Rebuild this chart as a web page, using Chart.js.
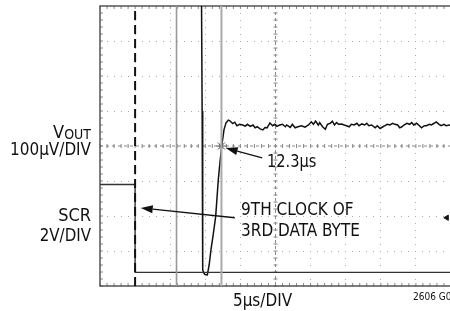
<!DOCTYPE html>
<html>
<head>
<meta charset="utf-8">
<script src="https://cdn.jsdelivr.net/npm/chart.js@4.4.0/dist/chart.umd.min.js"></script>
<style>
  html, body { margin: 0; padding: 0; background: #fff; overflow: hidden; }
  #wrap { width: 460px; height: 311px; }
</style>
</head>
<body>
<div id="wrap"><canvas id="scope" width="460" height="311"></canvas></div>
<script>
// time in us (5us/div), amplitude in divisions
const voutTime = [14.45, 14.55, 14.63, 14.75, 14.95, 15.29, 15.55, 15.81, 16.15, 16.48, 16.85, 17.10, 17.34, 17.66, 17.95, 18.28,
  18.5, 18.9, 19.2, 19.5, 19.9, 20.3, 20.7, 21.0, 21.4, 21.8, 22.1, 22.4, 22.8, 23.2, 23.5, 23.8, 24.2, 24.6, 24.9, 25.2,
  25.6, 26.0, 26.4, 26.6, 27.1, 27.4, 27.8, 28.2, 28.7, 29.2, 29.7, 30.1, 30.4, 30.7, 31.1, 31.3, 31.7, 32.1, 32.4, 32.8,
  33.1, 33.4, 33.7, 34.0, 34.4, 34.8, 35.1, 35.5, 35.8, 36.2, 36.6, 36.9, 37.3, 37.7, 38.0, 38.3, 38.7, 39.2, 39.5, 39.9,
  40.3, 40.6, 40.9, 41.3, 41.7, 42.0, 42.4, 42.7, 43.0, 43.3, 43.7, 44.1, 44.4, 44.7, 45.1, 45.5, 45.8, 46.2, 46.5, 46.9,
  47.2, 47.6, 47.9, 48.3, 48.6, 49.0, 49.3, 49.8, 50.2];
const voutDiv = [4.6, 1.0, -3.53, -3.62, -3.67, -3.68, -3.4, -2.96, -2.5, -2.01, -0.97, -0.45, 0, 0.46, 0.66, 0.74,
  0.72, 0.64, 0.68, 0.58, 0.62, 0.60, 0.57, 0.62, 0.56, 0.60, 0.52, 0.55, 0.49, 0.46, 0.53, 0.52, 0.66, 0.58, 0.62, 0.56,
  0.60, 0.62, 0.55, 0.60, 0.53, 0.62, 0.52, 0.55, 0.58, 0.54, 0.60, 0.69, 0.62, 0.71, 0.60, 0.67, 0.55, 0.48, 0.62, 0.65,
  0.71, 0.60, 0.67, 0.62, 0.63, 0.60, 0.58, 0.55, 0.62, 0.60, 0.65, 0.58, 0.63, 0.60, 0.65, 0.58, 0.60, 0.52, 0.58, 0.50,
  0.55, 0.58, 0.62, 0.60, 0.65, 0.62, 0.60, 0.52, 0.55, 0.60, 0.65, 0.62, 0.67, 0.60, 0.65, 0.58, 0.52, 0.58, 0.58, 0.62,
  0.60, 0.65, 0.69, 0.62, 0.58, 0.62, 0.58, 0.60, 0.60];

const scrTime = [0, 5, 5, 50.2];
const scrDiv = [-1.1, -1.1, -3.61, -3.61];

const clockTime = 5;            // 9th clock edge (dashed)
const cursorTimes = [10.9, 17.3]; // scope cursors
const crossing = { t: 17.3, v: 0 };
const trigger = { t: 49.4, v: -2.05 };

const xTicks = [0, 5, 10, 15, 20, 25, 30, 35, 40, 45, 50];
const yTicks = [-4, -3, -2, -1, 0, 1, 2, 3, 4];

const FONT = '"Liberation Sans Narrow", "DejaVu Sans Condensed", "Liberation Sans", sans-serif';

function pts(xs, ys) {
  return xs.map((x, i) => ({ x: x, y: ys[i] }));
}
function vline(t) {
  return [{ x: t, y: -4 }, { x: t, y: 4 }];
}

// text squeezed a little horizontally
function narrowText(ctx, txt, x, y, sx) {
  ctx.save();
  ctx.translate(x, y);
  ctx.scale(sx, 1);
  ctx.fillText(txt, 0, 0);
  ctx.restore();
}

// frame, centre axes with minor ticks, annotations
const scopePlugin = {
  id: "scope",
  beforeDatasetsDraw(chart) {
    const { ctx, chartArea: a, scales } = chart;
    const xs = scales.x, ys = scales.y;
    const cx = xs.getPixelForValue(25), cy = ys.getPixelForValue(0);
    ctx.save();
    ctx.strokeStyle = "#888";
    ctx.lineWidth = 1;
    ctx.setLineDash([3, 3]);
    ctx.beginPath();
    ctx.moveTo(a.left, cy); ctx.lineTo(a.right, cy);
    ctx.moveTo(cx, a.top); ctx.lineTo(cx, a.bottom);
    ctx.stroke();
    ctx.setLineDash([]);
    // minor ticks every 1/5 div
    ctx.beginPath();
    for (let t = 0; t <= 50; t += 1) {
      const px = xs.getPixelForValue(t);
      ctx.moveTo(px, cy - 2); ctx.lineTo(px, cy + 2);
      ctx.moveTo(px, a.bottom); ctx.lineTo(px, a.bottom - 3);
      ctx.moveTo(px, a.top); ctx.lineTo(px, a.top + 3);
    }
    for (let v = -4; v <= 4; v += 0.2) {
      const py = ys.getPixelForValue(v);
      ctx.moveTo(cx - 2, py); ctx.lineTo(cx + 2, py);
      ctx.moveTo(a.left, py); ctx.lineTo(a.left + 3, py);
    }
    ctx.stroke();
    // frame
    ctx.strokeStyle = "#555";
    ctx.lineWidth = 1.5;
    ctx.beginPath();
    ctx.moveTo(a.right + 5, a.top); ctx.lineTo(a.left, a.top);
    ctx.lineTo(a.left, a.bottom); ctx.lineTo(a.right + 5, a.bottom);
    ctx.stroke();
    ctx.restore();
  },
  afterDraw(chart) {
    const { ctx, scales } = chart;
    const xs = scales.x, ys = scales.y;
    ctx.save();
    ctx.fillStyle = "#111";
    ctx.strokeStyle = "#111";
    ctx.textBaseline = "alphabetic";

    // left labels (right aligned at x=91)
    ctx.textAlign = "right";
    ctx.font = "14px " + FONT;
    ctx.fillText("OUT", 91, 139);
    const w = ctx.measureText("OUT").width;
    ctx.font = "18px " + FONT;
    ctx.fillText("V", 91 - w, 138);
    narrowText(ctx, "100\u03BCV/DIV", 91, 155, 0.94);
    ctx.fillText("SCR", 91, 221);
    narrowText(ctx, "2V/DIV", 91, 241, 0.93);

    // in-plot text
    ctx.textAlign = "left";
    narrowText(ctx, "12.3\u03BCs", xs.getPixelForValue(23.8), ys.getPixelForValue(-0.59), 0.9);
    ctx.font = "17px " + FONT;
    ctx.fillText("9TH CLOCK OF", xs.getPixelForValue(20.1), ys.getPixelForValue(-1.96));
    ctx.fillText("3RD DATA BYTE", xs.getPixelForValue(20.1), ys.getPixelForValue(-2.56));
    ctx.font = "18px " + FONT;
    narrowText(ctx, "5\u03BCs/DIV", 233, 306, 0.94);
    ctx.font = "10px " + FONT;
    ctx.fillText("2606 G08", 413, 300);

    // arrows
    arrow(ctx, xs.getPixelForValue(23.1), ys.getPixelForValue(-0.34), xs.getPixelForValue(17.9), ys.getPixelForValue(-0.06));
    arrow(ctx, xs.getPixelForValue(19.2), ys.getPixelForValue(-2.05), xs.getPixelForValue(5.8), ys.getPixelForValue(-1.77));
    ctx.restore();
  }
};

function arrow(ctx, x1, y1, x2, y2) {
  const ang = Math.atan2(y2 - y1, x2 - x1);
  const len = 12, half = 4;
  const bx = x2 - len * Math.cos(ang), by = y2 - len * Math.sin(ang);
  ctx.lineWidth = 1.3;
  ctx.beginPath();
  ctx.moveTo(x1, y1); ctx.lineTo(bx, by);
  ctx.stroke();
  ctx.beginPath();
  ctx.moveTo(x2, y2);
  ctx.lineTo(bx + half * Math.sin(ang), by - half * Math.cos(ang));
  ctx.lineTo(bx - half * Math.sin(ang), by + half * Math.cos(ang));
  ctx.closePath();
  ctx.fill();
}

const chart = document.getElementById("scope").getContext("2d");

const scopeChart = new Chart(chart, {
  type: "scatter",
  data: {
    datasets: [
      {
        label: "cursor",
        data: vline(cursorTimes[0]),
        showLine: true,
        borderColor: "#999",
        borderWidth: 1.6,
        pointRadius: 0,
      },
      {
        label: "cursor2",
        data: vline(cursorTimes[1]),
        showLine: true,
        borderColor: "#aaa",
        borderWidth: 2,
        pointRadius: 0,
      },
      {
        label: "clock",
        data: vline(clockTime),
        showLine: true,
        borderColor: "#111",
        borderWidth: 2,
        borderDash: [9, 5],
        pointRadius: 0,
      },
      {
        label: "SCR",
        data: pts(scrTime, scrDiv),
        showLine: true,
        borderColor: "#333",
        borderWidth: 1.4,
        pointRadius: 0,
      },
      {
        label: "VOUT",
        data: pts(voutTime, voutDiv),
        showLine: true,
        borderColor: "#111",
        borderWidth: 1.5,
        pointRadius: 0,
        tension: 0,
      },
      {
        label: "cross",
        data: [{ x: crossing.t, y: crossing.v }],
        pointStyle: "star",
        pointRadius: 5,
        borderColor: "#555",
        borderWidth: 1,
      },
      {
        label: "trig",
        data: [{ x: trigger.t, y: trigger.v }],
        pointStyle: "triangle",
        rotation: 270,
        pointRadius: 3,
        backgroundColor: "#111",
        borderColor: "#111",
      },
    ],
  },
  options: {
    responsive: false,
    animation: false,
    events: [],
    layout: { padding: { left: 100, top: 5, right: 9, bottom: 25 } },
    scales: {
      x: {
        type: "linear",
        min: 0,
        max: 50,
        afterBuildTicks: (s) => { s.ticks = xTicks.map(v => ({ value: v })); },
        ticks: { display: false },
        grid: { color: "#aaa", lineWidth: 1, drawTicks: false, tickLength: 0 },
        border: { display: false, dash: [1, 6] },
      },
      y: {
        type: "linear",
        min: -4,
        max: 4,
        afterBuildTicks: (s) => { s.ticks = yTicks.map(v => ({ value: v })); },
        ticks: { display: false },
        grid: { color: "#aaa", lineWidth: 1, drawTicks: false, tickLength: 0 },
        border: { display: false, dash: [1, 6] },
      },
    },
    plugins: {
      legend: { display: false },
      tooltip: { enabled: false },
    },
  },
  plugins: [scopePlugin],
});
</script>
</body>
</html>
